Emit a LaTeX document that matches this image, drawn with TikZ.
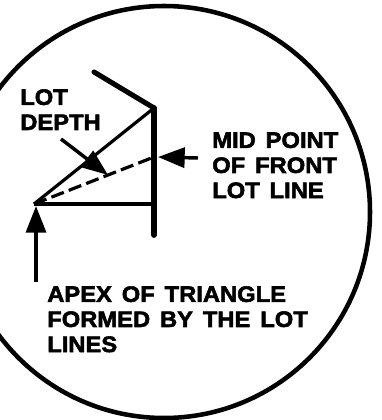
\documentclass[tikz,border=0pt]{standalone}
\usepackage{fontspec}
\setmainfont[WordSpace=1.5,FakeBold=2.5,FakeStretch=1.06]{Liberation Sans Bold}
\usetikzlibrary{arrows.meta,positioning}

\begin{document}
\begin{tikzpicture}[x=0.75pt,y=-0.75pt,
  lbl/.style={font=\fontsize{16.8}{18.8}\selectfont,align=left,anchor=north west,inner sep=0pt},
  lotline/.style={line width=3.8pt,line cap=round},
  thinline/.style={line width=2.4pt},
  arr/.style={-{Triangle[length=20pt,width=15pt]},line width=2.6pt}]
\clip (0,0) rectangle (381,420);
\node[draw,circle,line width=3.4pt,minimum size=309pt,inner sep=0pt] (plot) at (164,212) {};
% lot lines
\coordinate (apex) at (34,204);
\coordinate (top) at (154,108);
\coordinate (roof) at (94,72);
\coordinate (base) at (154,204);
\coordinate (foot) at (154,235);
\coordinate (mid) at (154,157);
\draw[lotline] (roof) -- (top);
\draw[lotline,line width=4.4pt] (top) -- (foot);
\draw[thinline] (apex) -- (top);
\draw[thinline] (apex) -- (base);
\draw[thinline,dash pattern=on 10pt off 4pt] (apex) -- (mid);
% labels
\node[lbl] (depth) at (20,89) {LOT\\DEPTH};
\node[lbl] (midpt) at (212,132) {MID POINT\\OF FRONT\\LOT LINE};
\node[lbl] (form) at (47,286) {APEX OF TRIANGLE\\FORMED BY THE LOT\\LINES};
% pointers
\coordinate (deptail) at (61,139);
\coordinate (deptip) at (108,175);
\coordinate (midtail) at (198,158);
\coordinate (midtip) at (158,157);
\coordinate (aptail) at (36,282);
\coordinate (aptip) at (36,206);
\draw[arr] (deptail) -- (deptip);
\draw[arr] (midtail) -- (midtip);
\draw[arr] (aptail) -- (aptip);
\end{tikzpicture}
\end{document}
